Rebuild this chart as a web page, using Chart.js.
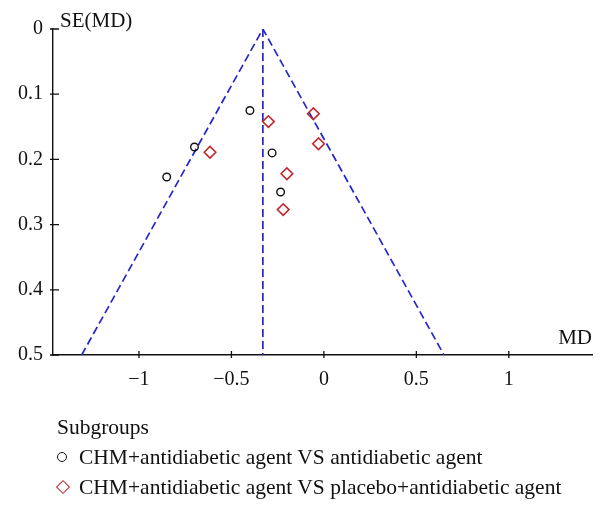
<!DOCTYPE html>
<html>
<head>
<meta charset="utf-8">
<script src="https://cdn.jsdelivr.net/npm/chart.js@4"></script>
<style>
  body { margin: 0; background: #fff; }
  #wrap { position: relative; width: 606px; height: 512px; }
  #legend { position: absolute; left: 57px; top: 412px; font: 21.5px "Liberation Serif", serif; color: #111; line-height: 30px; }
  #legend .item { display: flex; align-items: center; white-space: nowrap; }
  #legend .mk { display: inline-block; width: 22px; position: relative; height: 14px; }
  #legend .circle { position: absolute; left: 0px; top: 2px; width: 8px; height: 8px; border: 1.4px solid #111; border-radius: 50%; }
  #legend .diamond { position: absolute; left: 1px; top: 2px; width: 8px; height: 8px; border: 1.5px solid #c0272d; transform: rotate(45deg); }
</style>
</head>
<body>
<div id="wrap">
  <canvas id="funnel" width="606" height="512"></canvas>
  <div id="legend"></div>
</div>
<script>
// subgroup 1: CHM+antidiabetic agent VS antidiabetic agent
const md1 = [-0.40, -0.70, -0.85, -0.28, -0.234];
const se1 = [0.125, 0.181, 0.227, 0.190, 0.250];
// subgroup 2: CHM+antidiabetic agent VS placebo+antidiabetic agent
const md2 = [-0.30, -0.057, -0.616, -0.029, -0.20, -0.22];
const se2 = [0.142, 0.130, 0.189, 0.176, 0.222, 0.277];

// funnel (pooled MD and 95% limits)
const funnelMD = [-1.31, -0.33, 0.65];
const funnelSE = [0.5, 0, 0.5];
const centreMD = [-0.33, -0.33];
const centreSE = [0, 0.5];

const xTicks = [-1, -0.5, 0, 0.5, 1];
const yTicks = [0, 0.1, 0.2, 0.3, 0.4, 0.5];

const labels = ['CHM+antidiabetic agent VS antidiabetic agent',
                'CHM+antidiabetic agent VS placebo+antidiabetic agent'];

const pts = (xs, ys) => xs.map((x, i) => ({x: x, y: ys[i]}));
const serif = '"Liberation Serif", serif';
const blue = '#2626cc';

const axisExtras = {
  id: 'axisExtras',
  afterDraw(chart) {
    const ctx = chart.ctx;
    const a = chart.chartArea;
    const xs = chart.scales.x, ys = chart.scales.y;
    ctx.save();
    ctx.strokeStyle = '#111';
    ctx.lineWidth = 1.3;
    ctx.beginPath();
    xTicks.forEach(v => {
      const px = xs.getPixelForValue(v);
      ctx.moveTo(px, a.bottom - 4);
      ctx.lineTo(px, a.bottom + 3);
    });
    yTicks.forEach(v => {
      const py = ys.getPixelForValue(v);
      ctx.moveTo(a.left - 3, py);
      ctx.lineTo(a.left + 6, py);
    });
    ctx.stroke();
    ctx.fillStyle = '#111';
    ctx.font = '21px ' + serif;
    ctx.textBaseline = 'alphabetic';
    ctx.textAlign = 'left';
    ctx.fillText('SE(MD)', a.left + 7, a.top - 2);
    ctx.textAlign = 'right';
    ctx.fillText('MD', a.right, a.bottom - 11);
    ctx.restore();
  }
};

const chart = new Chart(document.getElementById('funnel'), {
  type: 'scatter',
  data: {
    datasets: [
      {
        label: labels[0], data: pts(md1, se1),
        pointStyle: 'circle', radius: 3.8, borderWidth: 1.4,
        borderColor: '#111', backgroundColor: 'rgba(0,0,0,0)', legendShow: 'circle'
      },
      {
        label: labels[1], data: pts(md2, se2),
        pointStyle: 'rectRot', radius: 5.8, borderWidth: 1.6,
        borderColor: '#c0272d', backgroundColor: 'rgba(0,0,0,0)', legendShow: 'diamond'
      },
      {
        type: 'line', label: 'limits', data: pts(funnelMD, funnelSE),
        showLine: true, pointRadius: 0, borderColor: blue, borderWidth: 1.7,
        borderDash: [8, 4], fill: false
      },
      {
        type: 'line', label: 'pooled', data: pts(centreMD, centreSE),
        showLine: true, pointRadius: 0, borderColor: blue, borderWidth: 1.7,
        borderDash: [8, 4], fill: false
      }
    ]
  },
  options: {
    responsive: false,
    animation: false,
    layout: { padding: { top: 29, right: 14, left: 0, bottom: 117 } },
    plugins: { legend: { display: false }, tooltip: { enabled: false } },
    scales: {
      x: {
        type: 'linear', min: -1.465, max: 1.45,
        afterBuildTicks: s => { s.ticks = xTicks.map(v => ({value: v})); },
        afterFit: s => { s.height = 40; },
        grid: { drawOnChartArea: false, drawTicks: false },
        border: { color: '#111', width: 1.4 },
        ticks: {
          color: '#111', padding: 13, font: { family: serif, size: 20 },
          callback: v => String(v).replace('-', '\u2212')
        }
      },
      y: {
        type: 'linear', reverse: true, min: 0, max: 0.5,
        afterBuildTicks: s => { s.ticks = yTicks.map(v => ({value: v})); },
        afterFit: s => { s.width = 53; },
        grid: { drawOnChartArea: false, drawTicks: false },
        border: { color: '#111', width: 1.4 },
        ticks: { color: '#111', padding: 10, font: { family: serif, size: 20 } }
      }
    }
  },
  plugins: [axisExtras]
});

// HTML legend built from the scatter datasets
const legend = document.getElementById('legend');
const head = document.createElement('div');
head.textContent = 'Subgroups';
legend.appendChild(head);
chart.data.datasets.filter(d => d.legendShow).forEach(d => {
  const row = document.createElement('div');
  row.className = 'item';
  const mk = document.createElement('span');
  mk.className = 'mk';
  const shape = document.createElement('span');
  shape.className = d.legendShow;
  mk.appendChild(shape);
  row.appendChild(mk);
  row.appendChild(document.createTextNode(d.label));
  legend.appendChild(row);
});
</script>
</body>
</html>
